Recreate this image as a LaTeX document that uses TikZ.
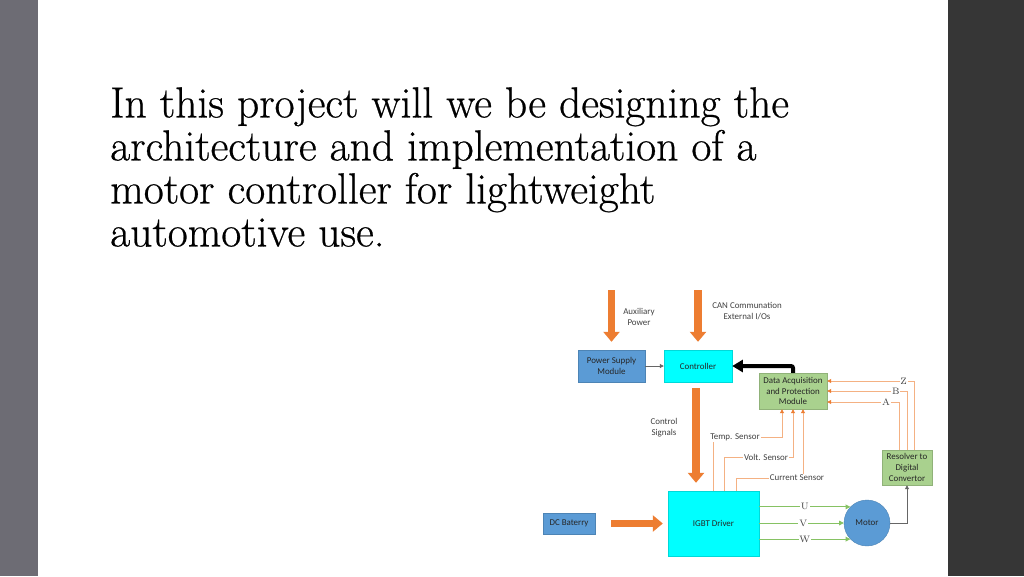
\documentclass[tikz,border=0pt]{standalone}
\usepackage{fontspec}
\newfontfamily\diagfont{Carlito}
\newfontfamily\headfont[FakeBold=0.6]{Latin Modern Roman}
\usetikzlibrary{arrows.meta, positioning, calc}
\definecolor{mcblue}{HTML}{5B9BD5}
\definecolor{mccyan}{HTML}{00FFFF}
\definecolor{mcgreen}{HTML}{A9D18E}
\definecolor{mcorange}{HTML}{ED7D31}
\definecolor{mcorangelight}{HTML}{F4B183}
\definecolor{mcphase}{HTML}{86C263}
\definecolor{mcgrey}{HTML}{404040}
\definecolor{mcleftbar}{HTML}{6D6C74}
\definecolor{mcrightbar}{HTML}{363636}

\begin{document}
\begin{tikzpicture}[x=0.75pt, y=-0.75pt,
    box/.style={draw=#1!85!black, line width=0.3pt, fill=#1, align=center, inner sep=1pt,
      font=\diagfont\fontsize{6.7}{8}\selectfont, text=black!85},
    lbl/.style={font=\diagfont\fontsize{6.7}{8.25}\selectfont, text=mcgrey, align=center},
    ltr/.style={font=\fontsize{7}{8}\selectfont, text=mcgrey, fill=white, inner sep=0.6pt},
    fat/.style={mcorange, line width=5.6pt, -{Triangle[length=7.5pt,width=12pt]}},
    link/.style={mcgrey!80, line width=0.6pt, -{Triangle[length=3pt,width=3pt]}},
    wire/.style={mcorangelight, line width=0.6pt},
    sensor/.style={wire, -{Triangle[length=3pt,width=3pt,color=mcorange]}},
    phase/.style={mcphase, line width=0.6pt, -{Triangle[length=3.5pt,width=3.5pt]}}]
  % slide background
  \fill[white] (0,0) rectangle (1024,576);
  \fill[mcleftbar] (0,0) rectangle (38,576);
  \fill[mcrightbar] (948,0) rectangle (1024,576);
  \useasboundingbox (0,0) rectangle (1024,576);

  \node[anchor=north west, inner sep=0pt, align=left, text=black,
    font=\headfont\fontsize{32.6}{32.25}\selectfont] (title) at (110,87)
    {In this project will we be designing the\\architecture and implementation of a\\motor controller for lightweight\\automotive use.};

  % blocks
  \node[box=mcblue, minimum width=50.25pt, minimum height=24pt] (psm) at (611.5,366) {Power Supply\\Module};
  \node[box=mccyan, minimum width=51pt, minimum height=24pt] (ctrl) at (698,366) {Controller};
  \node[box=mcgreen, minimum width=51pt, minimum height=27pt] (dapm) at (793,391) {Data Acquisition\\and Protection\\Module};
  \node[box=mcgreen, minimum width=37.5pt, minimum height=26.25pt] (rdc) at (907,467.5) {Resolver to\\Digital\\Convertor};
  \node[box=mccyan, minimum width=68.25pt, minimum height=48.75pt] (igbt) at (713.5,523.5) {IGBT Driver};
  \node[box=mcblue, minimum width=39pt, minimum height=15.75pt] (dcbat) at (569,523.5) {DC Baterry};
  \node[box=mcblue, circle, minimum size=34.5pt] (motor) at (867,523) {Motor};

  % inputs
  \coordinate (auxin) at (611.5,290);
  \coordinate (canin) at (698,290);
  \node[lbl] (auxlbl) at (639,317) {Auxiliary\\Power};
  \node[lbl] (canlbl) at (747,311) {CAN Communation\\External I/Os};
  \node[lbl] (ctrllbl) at (664,428) {Control\\Signals};
  \draw[fat] (auxin) -- ([yshift=6pt]psm.north);
  \draw[fat] (canin) -- ([yshift=6pt]ctrl.north);
  \draw[fat] ([xshift=-1.5pt,yshift=-4.5pt]ctrl.south) -- ([xshift=-1.5pt,yshift=6pt]ctrl.south |- igbt.north);
  \draw[fat] ([xshift=12pt]dcbat.east) -- ([xshift=-3.75pt]igbt.west);

  \draw[link] (psm) -- (ctrl);
  \draw[line width=3pt, rounded corners=1.5pt, -{Triangle[length=8pt,width=9pt]}] (dapm.north) |- (ctrl.east);
  \draw[link] (motor) -| (rdc);

  % phases
  \draw[phase] (igbt.east |- motor.136) -- node[ltr, pos=0.5] (lblu) {U} (motor.136);
  \draw[phase] (igbt.east |- motor.west) -- node[ltr, pos=0.52] (lblv) {V} (motor.west);
  \draw[phase] (igbt.east |- motor.224) -- node[ltr, pos=0.5] (lblw) {W} (motor.224);

  % resolver outputs
  \draw[sensor] ([xshift=5.25pt]rdc.north) |- node[ltr, pos=0.56] (lblz) {Z} ([yshift=7.5pt]dapm.east);
  \draw[sensor] (rdc.north) |- node[ltr, pos=0.57] (lblb) {B} (dapm.east);
  \draw[sensor] ([xshift=-6pt]rdc.north) |- node[ltr, pos=0.59] (lbla) {A} ([yshift=-8.25pt]dapm.east);

  % sensors
  \node[lbl, inner sep=0.8pt] (temp) at (735,437) {Temp. Sensor};
  \node[lbl, inner sep=0.8pt] (volt) at (766,457) {Volt. Sensor};
  \node[lbl, inner sep=0.8pt] (curr) at (797,478) {Current Sensor};
  \draw[wire] (igbt.north) -- (igbt.north |- temp.south);
  \draw[sensor] (temp.east) -| ([xshift=-8.25pt]dapm.south);
  \draw[wire] ([xshift=7.9pt]igbt.north) |- (volt.west);
  \draw[sensor] (volt.east) -| (dapm.south);
  \draw[wire] ([xshift=16.9pt]igbt.north) |- (curr.west);
  \draw[sensor] ([xshift=7.5pt]dapm.south |- curr.north) -- ([xshift=7.5pt]dapm.south);
\end{tikzpicture}
\end{document}
